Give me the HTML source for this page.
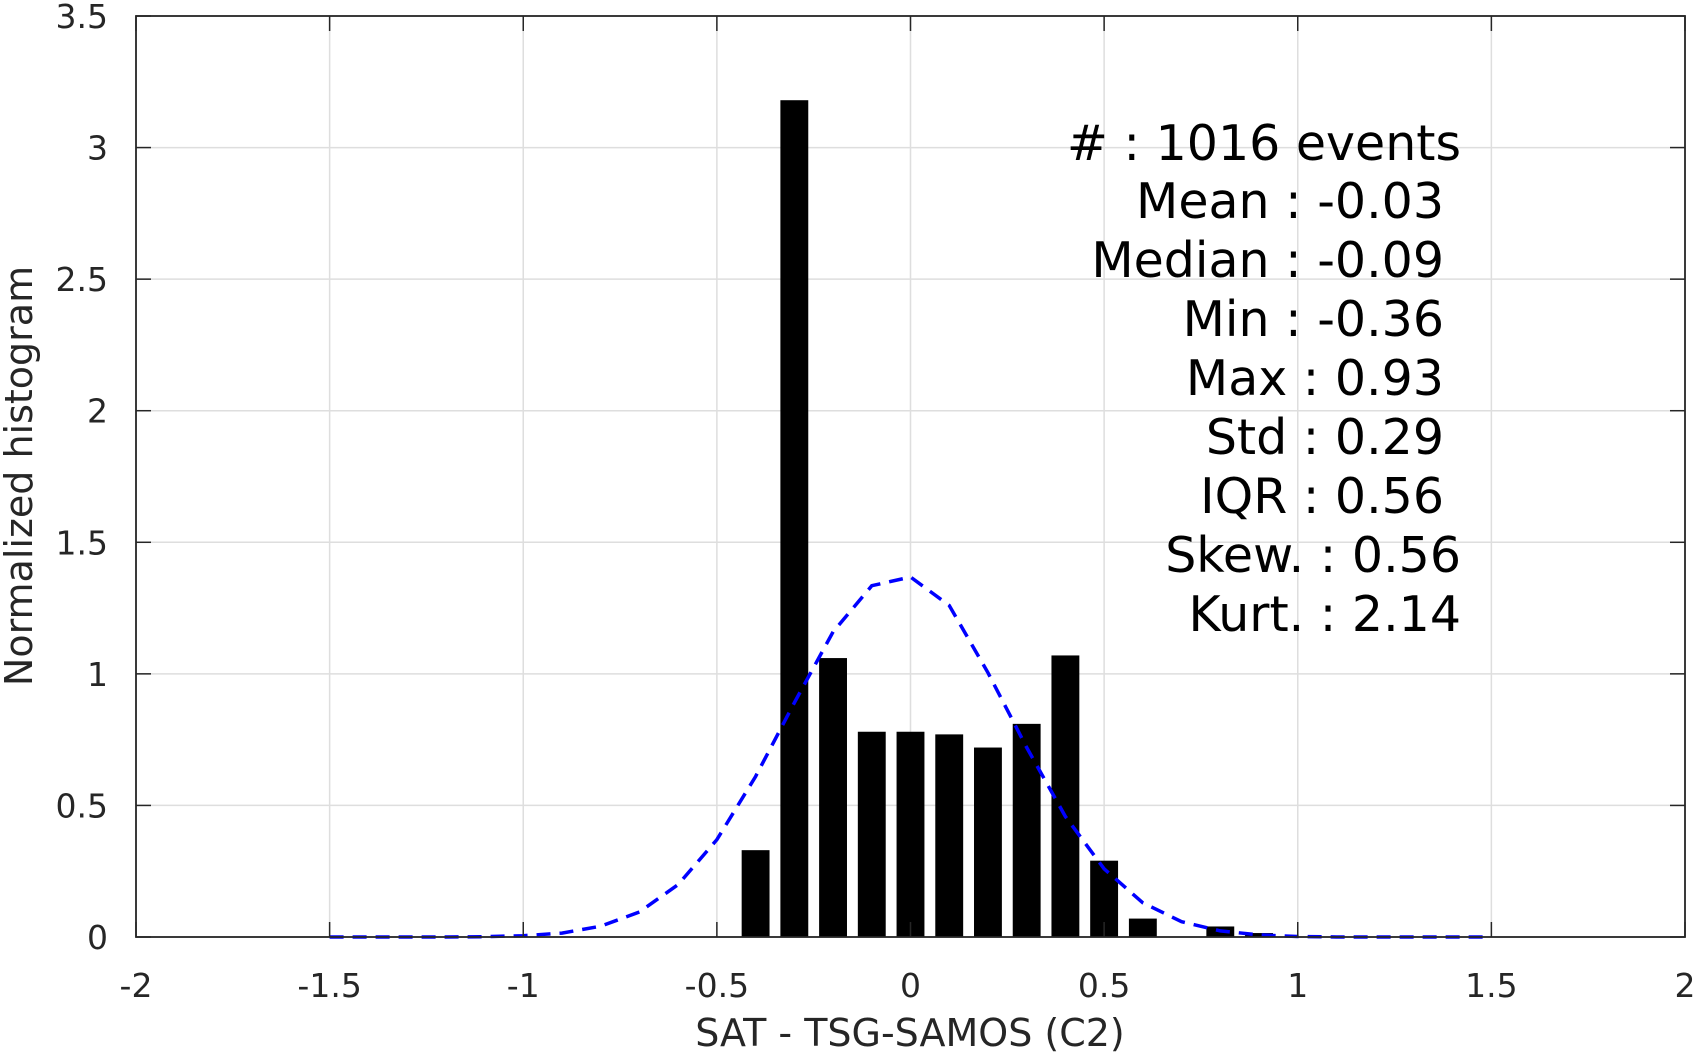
<!DOCTYPE html>
<html><head><meta charset="utf-8"><style>
body{margin:0;background:#fff}
svg{display:block;font-family:"DejaVu Sans","Liberation Sans",sans-serif}
</style></head><body>
<svg id="chart" width="1703" height="1053" viewBox="0 0 1703 1053" xmlns="http://www.w3.org/2000/svg">
<g id="grid"></g>
<g id="bars"></g>
<path id="fit" fill="none" stroke="#0000ff" stroke-width="3.5" stroke-dasharray="14,9"/>
<g id="axes"></g>
<g font-size="49" fill="#000" text-anchor="end">
<text x="1461" y="160">#  : 1016 events</text>
<text x="1444" y="218">Mean : -0.03</text>
<text x="1444" y="277">Median : -0.09</text>
<text x="1444" y="336">Min : -0.36</text>
<text x="1444" y="395">Max : 0.93</text>
<text x="1444" y="454">Std : 0.29</text>
<text x="1444" y="513">IQR : 0.56</text>
<text x="1461" y="572">Skew. : 0.56</text>
<text x="1461" y="631">Kurt. : 2.14</text>
</g>
<text x="910" y="1046" font-size="38" fill="#262626" text-anchor="middle">SAT - TSG-SAMOS (C2)</text>
<text transform="translate(32,476) rotate(-90)" font-size="38" fill="#262626" text-anchor="middle">Normalized histogram</text>
</svg>
<script>
const binCenters=[-0.4,-0.3,-0.2,-0.1,0,0.1,0.2,0.3,0.4,0.5,0.6,0.7,0.8,0.9];
const binValues=[0.33,3.18,1.06,0.78,0.78,0.77,0.72,0.81,1.07,0.29,0.07,0,0.04,0.015];
const fitX=[-1.5,-1.4,-1.3,-1.2,-1.1,-1.0,-0.9,-0.8,-0.7,-0.6,-0.5,-0.4,-0.3,-0.2,-0.1,0,0.1,0.2,0.3,0.4,0.5,0.6,0.7,0.8,0.9,1.0,1.1,1.2,1.3,1.4,1.5];
const fitY=[0,0,0,0,0.001,0.005,0.015,0.041,0.095,0.199,0.37,0.61,0.89,1.16,1.335,1.368,1.26,1.004,0.72,0.458,0.259,0.13,0.058,0.023,0.008,0.002,0,0,0,0,0];
const xTicks=[-2,-1.5,-1,-0.5,0,0.5,1,1.5,2];
const xTickLabels=["-2","-1.5","-1","-0.5","0","0.5","1","1.5","2"];
const yTicks=[0,0.5,1,1.5,2,2.5,3,3.5];
const yTickLabels=["0","0.5","1","1.5","2","2.5","3","3.5"];
const L=136,R=1685,T=16,B=937,xmin=-2,xmax=2,ymin=0,ymax=3.5;
const sx=v=>L+(v-xmin)/(xmax-xmin)*(R-L);
const sy=v=>B-(v-ymin)/(ymax-ymin)*(B-T);
const NS="http://www.w3.org/2000/svg";
function mk(tag,attrs,parent){const e=document.createElementNS(NS,tag);for(const k in attrs)e.setAttribute(k,attrs[k]);parent.appendChild(e);return e;}
const grid=document.getElementById('grid'),axes=document.getElementById('axes'),bars=document.getElementById('bars');
xTicks.forEach((t,i)=>{
 const g=mk('line',{x1:sx(t),x2:sx(t),y1:T,y2:B,stroke:'#dedede','stroke-width':1.5},grid);
 
 
 const a=mk('line',{x1:sx(t),x2:sx(t),y1:B,y2:B-15,stroke:'#262626','stroke-width':1.5},axes);
 
 
 const a2=mk('line',{x1:sx(t),x2:sx(t),y1:T,y2:T+15,stroke:'#262626','stroke-width':1.5},axes);
 
 
 const tx=mk('text',{x:sx(t),y:997,'font-size':33,fill:'#262626','text-anchor':'middle'},axes);
 tx.textContent=xTickLabels[i];
 
 
});
yTicks.forEach((t,i)=>{
 const g=mk('line',{x1:L,x2:R,y1:sy(t),y2:sy(t),stroke:'#dedede','stroke-width':1.5},grid);
 
 
 const a=mk('line',{x1:L,x2:L+15,y1:sy(t),y2:sy(t),stroke:'#262626','stroke-width':1.5},axes);
 
 
 const a2=mk('line',{x1:R,x2:R-15,y1:sy(t),y2:sy(t),stroke:'#262626','stroke-width':1.5},axes);
 
 
 const tx=mk('text',{x:108,y:sy(t)+12,'font-size':33,fill:'#262626','text-anchor':'end'},axes);
 tx.textContent=yTickLabels[i];
 
 
});
const bw=0.072;
binCenters.forEach((c,i)=>{
 const v=binValues[i]; if(v<=0) return;
 const r=mk('rect',{x:sx(c-bw/2),y:sy(v),width:sx(c+bw/2)-sx(c-bw/2),height:sy(0)-sy(v),fill:'#000'},bars);
 
 
});
document.getElementById('fit').setAttribute('d',fitX.map((x,i)=>(i?'L':'M')+sx(x).toFixed(1)+' '+sy(fitY[i]).toFixed(1)).join(' '));
const box=mk('rect',{x:L,y:T,width:R-L,height:B-T,fill:'none',stroke:'#262626','stroke-width':1.8},axes);


</script>
</body></html>
